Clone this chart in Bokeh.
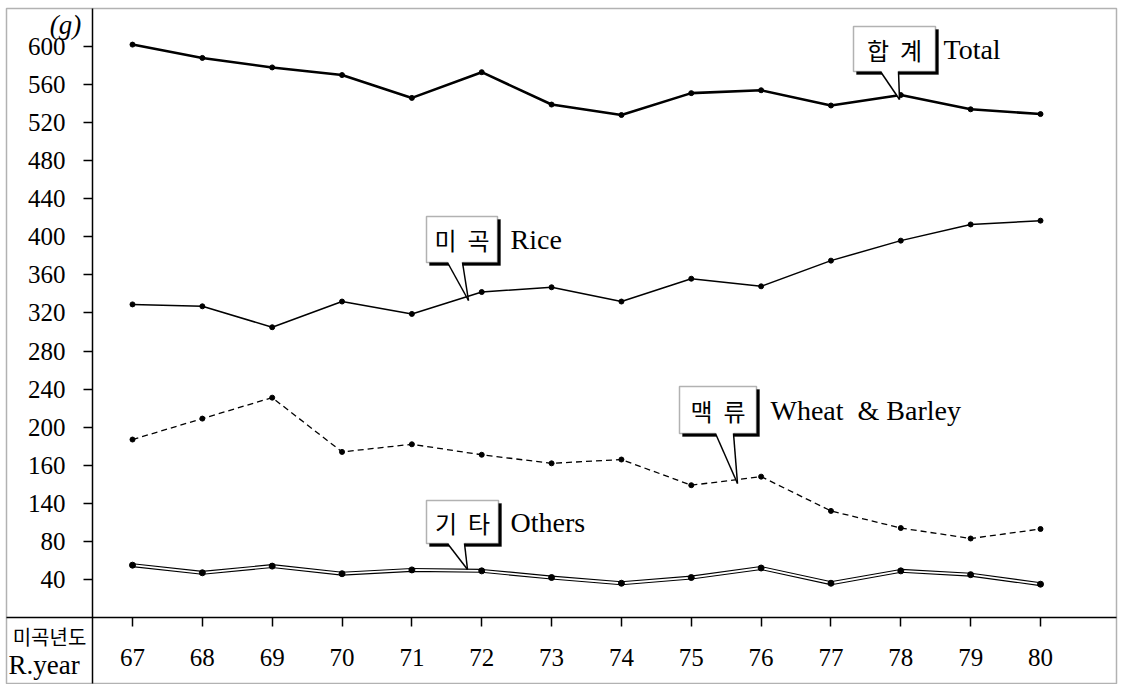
from bokeh.plotting import figure
from bokeh.models import (Range1d, FixedTicker, Label, BoxAnnotation, PolyAnnotation, LinearAxis)
from bokeh.embed import file_html
from bokeh.resources import INLINE

# ---------------- data ----------------
years = [67, 68, 69, 70, 71, 72, 73, 74, 75, 76, 77, 78, 79, 80]
total = [602, 588, 578, 570, 546, 573, 539, 528, 551, 554, 538, 549, 534, 529]
rice = [329, 327, 305, 332, 319, 342, 347, 332, 356, 348, 375, 396, 413, 417]
wheat_barley = [187, 209, 231, 174, 182, 171, 162, 166, 139, 148, 112, 94, 83, 93]
others = [55, 47, 54, 46, 50, 49, 42, 36, 42, 52, 36, 49, 45, 35]
y_ticks = [40, 80, 120, 160, 200, 240, 280, 320, 360, 400, 440, 480, 520, 560, 600]
y_tick_labels = ["40", "80", "140", "160", "200", "240", "280", "320", "360",
                 "400", "440", "480", "520", "560", "600"]

SERIF = "Liberation Serif"
KR = "Noto Sans CJK KR"
NB = "\u00a0"

W, H = 1118, 684
# scale: 67 -> px 132, 80 -> px 1040 ; value 0 -> py 617, value 600 -> py 46
PXX = (1040 - 132) / 13.0
PYV = (617 - 46) / 600.0
X0 = 67 - 132 / PXX
X1 = X0 + W / PXX
Y1 = 617 / PYV
Y0 = -(H - 617) / PYV

def xd(px):
    return X0 + px / PXX
def yd(py):
    return (617 - py) / PYV

p = figure(width=W, height=H, output_backend="svg", toolbar_location=None,
           x_range=Range1d(X0, X1), y_range=Range1d(Y0, Y1),
           x_axis_location=None, y_axis_location=None, min_border=0)
p.grid.visible = False
p.outline_line_color = None
p.background_fill_color = "white"
p.border_fill_color = "white"

# axes drawn inside the frame at fixed locations
yaxis = LinearAxis(fixed_location=xd(92), bounds=(yd(683), yd(8)),
                   ticker=FixedTicker(ticks=y_ticks),
                   major_label_overrides={t: l for t, l in zip(y_ticks, y_tick_labels)})
xaxis = LinearAxis(fixed_location=yd(617), bounds=(xd(6), xd(1116)),
                   ticker=FixedTicker(ticks=years),
                   major_label_overrides={y: str(y) for y in years})
for ax in (xaxis, yaxis):
    ax.major_tick_in = 0
    ax.major_tick_out = 9
    ax.minor_tick_out = 0
    ax.minor_tick_in = 0
    ax.axis_line_color = "black"
    ax.axis_line_width = 1.5
    ax.major_tick_line_color = "black"
    ax.major_tick_line_width = 1.5
    ax.major_label_text_font = SERIF
    ax.major_label_text_font_size = "25px"
    ax.major_label_text_color = "black"
xaxis.major_label_standoff = 22
yaxis.major_label_standoff = 18
p.add_layout(yaxis, "left")
p.add_layout(xaxis, "below")

# outer frame
p.add_layout(BoxAnnotation(left=xd(6), right=xd(1116), top=yd(8), bottom=yd(683),
                           fill_alpha=0, line_color="black", line_width=1.5, level="underlay"))

# series
p.line(years, total, line_color="black", line_width=2.6)
p.scatter(years, total, size=5, color="black")

p.line(years, rice, line_color="black", line_width=1.5)
p.scatter(years, rice, size=5, color="black")

p.line(years, wheat_barley, line_color="black", line_width=1.3, line_dash="6 4")
p.scatter(years, wheat_barley, size=5, color="black")

p.line(years, others, line_color="black", line_width=4.0)
p.line(years, others, line_color="white", line_width=1.8)
p.scatter(years, others, size=6, color="black")

# callouts
def callout(box, base_l, base_r, tip, kr_text, en_text, en_x):
    l, t, r, b = box
    p.add_layout(BoxAnnotation(left=xd(l + 3), right=xd(r + 3), top=yd(t + 3), bottom=yd(b + 3),
                               fill_color="black", fill_alpha=1, line_color="black"))
    p.add_layout(BoxAnnotation(left=xd(l), right=xd(r), top=yd(t), bottom=yd(b),
                               fill_color="white", fill_alpha=1, line_color="black", line_width=1.5))
    p.add_layout(PolyAnnotation(xs=[xd(base_l), xd(base_l), xd(tip[0]), xd(base_r), xd(base_r)],
                                ys=[yd(b - 2), yd(b), yd(tip[1]), yd(b + 4), yd(b - 2)],
                                fill_color="white", fill_alpha=1, line_alpha=0))
    p.segment(x0=[xd(base_l), xd(base_r)], y0=[yd(b), yd(b)],
              x1=[xd(tip[0]), xd(tip[0])], y1=[yd(tip[1]), yd(tip[1])],
              line_color="black", line_width=1.5, level="overlay")
    p.add_layout(Label(x=xd((l + r) / 2), y=yd((t + b) / 2), text=kr_text, text_font=KR,
                       text_font_size="24px", text_align="center", text_baseline="middle",
                       text_color="black", level="overlay"))
    p.add_layout(Label(x=xd(en_x), y=yd((t + b) / 2), text=en_text, text_font=SERIF,
                       text_font_size="28px", text_align="left", text_baseline="middle",
                       text_color="black", level="overlay"))

callout((853, 26, 935, 71), 880, 898, (899, 99), "합" + NB * 2 + "계", "Total", 943)
callout((426, 216, 497, 262), 447, 462, (468, 300), "미" + NB * 2 + "곡", "Rice", 510)
callout((679, 386, 756, 433), 715, 733, (737, 483), "맥" + NB * 2 + "류",
        "Wheat" + NB * 2 + "& Barley", 770)
callout((426, 500, 498, 543), 447, 464, (467, 569), "기" + NB * 2 + "타", "Others", 510)

# unit label and x-axis caption cell
p.add_layout(Label(x=xd(65), y=yd(24), text="(g)", text_font=SERIF, text_font_style="italic",
                   text_font_size="27px", text_align="center", text_baseline="middle",
                   text_color="black"))
p.add_layout(Label(x=xd(49), y=yd(636), text="미곡년도", text_font=KR,
                   text_font_size="20px", text_align="center", text_baseline="middle",
                   text_color="black"))
p.add_layout(Label(x=xd(8), y=yd(664), text="R.year", text_font=SERIF,
                   text_font_size="27px", text_align="left", text_baseline="middle",
                   text_color="black"))

open("out.html", "w").write(file_html(p, INLINE))
